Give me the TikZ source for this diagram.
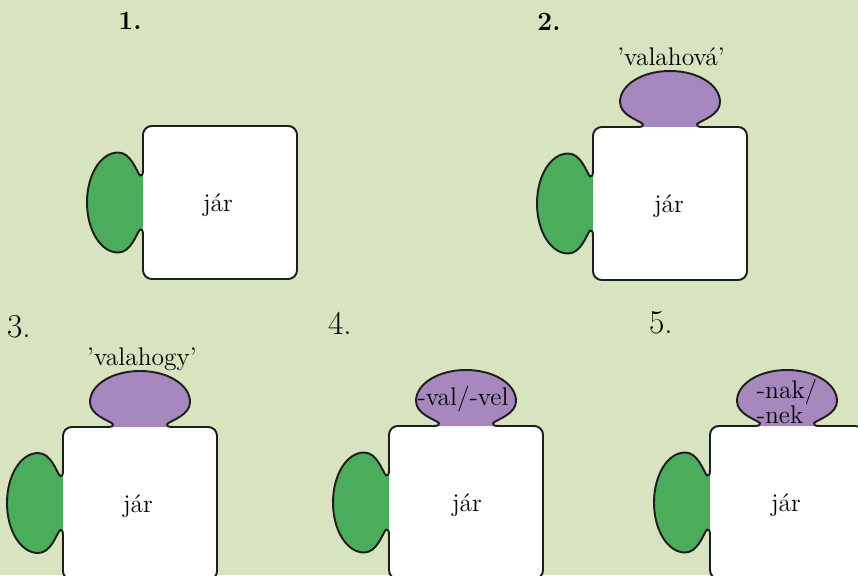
\documentclass[tikz,border=0pt]{standalone}
\usepackage{xcolor}
\usepackage{tikz}
\definecolor{pzbg}{HTML}{D8E3BF}
\definecolor{pzleaf}{HTML}{4BAC5B}
\definecolor{pzplum}{HTML}{A688BE}
\definecolor{pzrim}{HTML}{1E1E1E}

\begin{document}
\begin{tikzpicture}[
  x=0.02cm, y=0.02cm,
  rim/.style={draw=pzrim, line width=1.1pt, line cap=round, line join=round},
  word/.style={font=\fontsize{14.5}{17}\selectfont, inner sep=0pt, anchor=base},
  num/.style={font=\fontsize{15}{18}\selectfont\bfseries, inner sep=0pt},
  bignum/.style={font=\fontsize{19}{22}\selectfont, inner sep=0pt},
  pics/knob/.style={code={
    \fill[#1] (0,-27) -- (0,27) -- (-3,27)
      .. controls (-7,32) and (-12,50) .. (-25,50)
      .. controls (-42,50) and (-56,28) .. (-56,0)
      .. controls (-56,-28) and (-42,-50) .. (-25,-50)
      .. controls (-12,-50) and (-7,-32) .. (-3,-27) -- cycle;
    \draw[rim] (0,33) .. controls (0,28) and (-1,26) .. (-3,27)
      .. controls (-7,32) and (-12,50) .. (-25,50)
      .. controls (-42,50) and (-56,28) .. (-56,0)
      .. controls (-56,-28) and (-42,-50) .. (-25,-50)
      .. controls (-12,-50) and (-7,-32) .. (-3,-27)
      .. controls (-1,-26) and (0,-28) .. (0,-33);
  }},
]
\useasboundingbox[fill=pzbg] (0,0) rectangle (858,575);
\clip (0,0) rectangle (858,575);

% ===== 1. =====
\node[num] (n1) at (130,554.5) {1.};
\fill[white, rounded corners=5] (143,296) rectangle (297,449);
\pic at (143,372.5) {knob=pzleaf};
\draw[rim, rounded corners=5] (143,339.5) |- (297,296) |- (143,449) -- (143,405.5);
\node[word] (w1) at (218,363.5) {jár};

% ===== 2. =====
\node[num] (n2) at (549,553) {2.};
\fill[white, rounded corners=5] (593,295) rectangle (747,448);
\pic at (593,371.5) {knob=pzleaf};
\pic[rotate=-90] at (670,448) {knob=pzplum};
\draw[rim, rounded corners=5] (593,338.5) |- (747,295) |- (703,448);
\draw[rim, rounded corners=5] (637,448) -| (593,404.5);
\node[word] (w2) at (669,362.5) {jár};
\node[word] (t2) at (671,509) {’valahová’};

% ===== 3. =====
\node[bignum] (n3) at (19,248.5) {3.};
\fill[white, rounded corners=5] (63,-5) rectangle (217,148);
\pic at (63,72) {knob=pzleaf};
\pic[rotate=-90] at (140,148) {knob=pzplum};
\draw[rim, rounded corners=5] (63,39) |- (217,-5) |- (173,148);
\draw[rim, rounded corners=5] (107,148) -| (63,105);
\node[word] (w3) at (138,63) {jár};
\node[word] (t3) at (142,210) {’valahogy’};

% ===== 4. =====
\node[bignum] (n4) at (340,252) {4.};
\fill[white, rounded corners=5] (389,-4) rectangle (543,149);
\pic at (389,72.5) {knob=pzleaf};
\pic[rotate=-90] at (466,149) {knob=pzplum};
\draw[rim, rounded corners=5] (389,39.5) |- (543,-4) |- (499,149);
\draw[rim, rounded corners=5] (433,149) -| (389,105.5);
\node[word] (w4) at (467,63.5) {jár};
\node[word] (t4) at (463,170) {-val/-vel};

% ===== 5. =====
\node[bignum] (n5) at (661,252) {5.};
\fill[white, rounded corners=5] (710,-4) rectangle (864,149);
\pic at (710,72.5) {knob=pzleaf};
\pic[rotate=-90] at (787,149) {knob=pzplum};
\draw[rim, rounded corners=5] (710,39.5) |- (864,-4) |- (820,149);
\draw[rim, rounded corners=5] (754,149) -| (710,105.5);
\node[word] (w5) at (786,63.5) {jár};
\node[word] (t5a) at (787,177) {-nak/};
\node[word] (t5b) at (780,152) {-nek};

\end{tikzpicture}
\end{document}
